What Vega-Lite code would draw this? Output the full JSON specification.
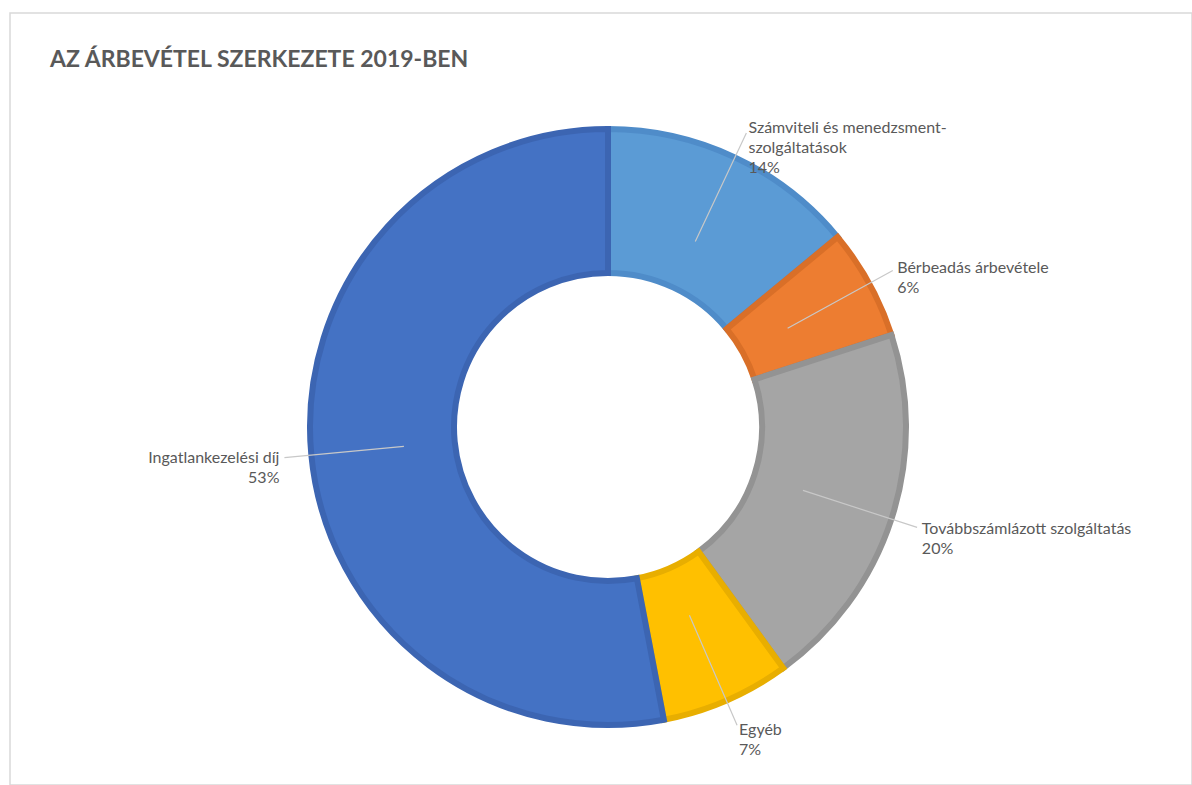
{
  "$schema": "https://vega.github.io/schema/vega-lite/v6.json",
  "width": 1182,
  "height": 772,
  "autosize": {"type": "none"},
  "padding": {"left": 10, "top": 13, "right": 0, "bottom": 0},
  "background": "white",
  "view": {"stroke": "#d9d9d9", "strokeWidth": 1.5},
  "title": {
    "text": "AZ ÁRBEVÉTEL SZERKEZETE 2019-BEN",
    "anchor": "start",
    "frame": "group",
    "font": "Lato, sans-serif",
    "fontSize": 23,
    "fontWeight": "bold",
    "color": "#595959",
    "baseline": "alphabetic",
    "offset": 0,
    "dx": 40,
    "dy": 77
  },
  "data": {
    "values": [
      {"name": "Számviteli és menedzsment-\nszolgáltatások", "pct": 14},
      {"name": "Bérbeadás árbevétele", "pct": 6},
      {"name": "Továbbszámlázott szolgáltatás", "pct": 20},
      {"name": "Egyéb", "pct": 7},
      {"name": "Ingatlankezelési díj", "pct": 53}
    ]
  },
  "transform": [
    {"window": [{"op": "sum", "field": "pct", "as": "cum"}], "frame": [null, 0]},
    {"calculate": "datum.cum - datum.pct", "as": "start"},
    {"calculate": "datum.cum - datum.pct / 2", "as": "mid"},
    {"calculate": "datum.name + '\\n' + datum.pct + '%'", "as": "txt"}
  ],
  "layer": [
    {
      "mark": {"type": "arc", "outerRadius": 298, "innerRadius": 154, "strokeWidth": 6, "strokeJoin": "miter", "xOffset": 7, "yOffset": 28},
      "encoding": {
        "theta": {"field": "start", "type": "quantitative", "stack": null, "scale": {"domain": [0, 100]}},
        "theta2": {"field": "cum"},
        "color": {
          "field": "name", "type": "nominal", "legend": null,
          "scale": {
            "domain": ["Számviteli és menedzsment-\nszolgáltatások", "Bérbeadás árbevétele", "Továbbszámlázott szolgáltatás", "Egyéb", "Ingatlankezelési díj"],
            "range": ["#5B9BD5", "#ED7D31", "#A5A5A5", "#FFC000", "#4472C4"]
          }
        },
        "stroke": {
          "field": "name", "type": "nominal", "legend": null,
          "scale": {
            "domain": ["Számviteli és menedzsment-\nszolgáltatások", "Bérbeadás árbevétele", "Továbbszámlázott szolgáltatás", "Egyéb", "Ingatlankezelési díj"],
            "range": ["#4F8CC9", "#D96F28", "#939393", "#E8AE00", "#3C65B2"]
          }
        }
      }
    },
    {
      "mark": {"type": "arc", "outerRadius": 325, "innerRadius": 205, "stroke": "#c8c8c8", "strokeWidth": 1.2, "fillOpacity": 0, "xOffset": 7, "yOffset": 28},
      "encoding": {
        "theta": {"field": "mid", "type": "quantitative", "stack": null},
        "theta2": {"field": "mid"}
      }
    },
    {
      "transform": [{"filter": "datum.mid < 50"}],
      "mark": {"type": "text", "radius": 330, "align": "left", "baseline": "middle", "lineBreak": "\n", "lineHeight": 20, "font": "Lato", "fontSize": 16, "color": "#595959", "xOffset": 7, "yOffset": 28},
      "encoding": {
        "theta": {"field": "mid", "type": "quantitative", "stack": null},
        "text": {"field": "txt"}
      }
    },
    {
      "transform": [{"filter": "datum.mid >= 50"}],
      "mark": {"type": "text", "radius": 330, "align": "right", "baseline": "middle", "lineBreak": "\n", "lineHeight": 20, "font": "Lato", "fontSize": 16, "color": "#595959", "xOffset": 7, "yOffset": 28},
      "encoding": {
        "theta": {"field": "mid", "type": "quantitative", "stack": null},
        "text": {"field": "txt"}
      }
    }
  ]
}
